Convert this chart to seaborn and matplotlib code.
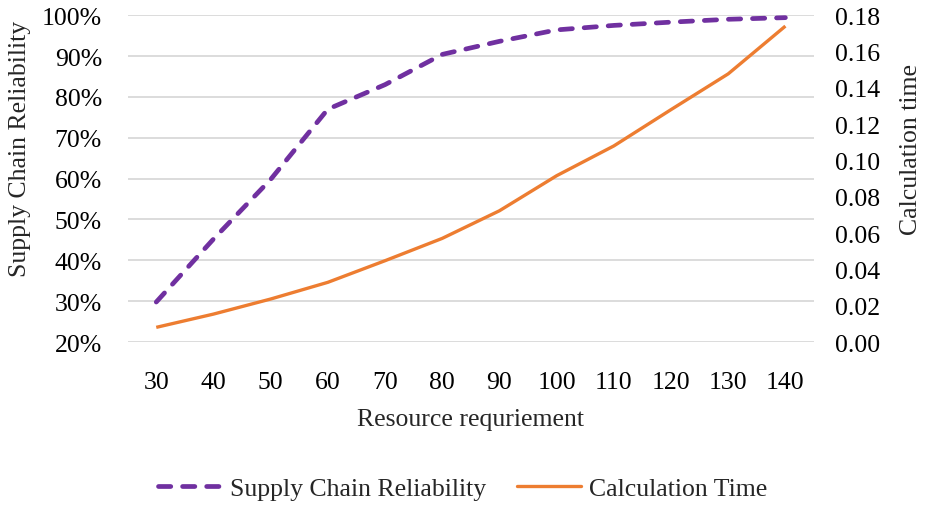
import matplotlib
matplotlib.use("Agg")
import matplotlib.pyplot as plt
import seaborn as sns
import pandas as pd
from matplotlib.ticker import FuncFormatter, MultipleLocator
from matplotlib.lines import Line2D

categories = [30, 40, 50, 60, 70, 80, 90, 100, 110, 120, 130, 140]
reliability = [0.298, 0.452, 0.598, 0.770, 0.830, 0.904, 0.936, 0.964, 0.975, 0.983, 0.990, 0.994]
calc_time = [0.0081, 0.0154, 0.0237, 0.0329, 0.0448, 0.0571, 0.0723, 0.0916, 0.108, 0.128, 0.1477, 0.174]

purple = "#7030A0"
orange = "#ED7D31"
FS = 18.5
DASH = (2.6, 2.5)

sns.set_theme(style="white")
plt.rcParams["font.family"] = ["Liberation Serif", "DejaVu Serif"]

df = pd.DataFrame({"pos": range(len(categories)), "cat": categories,
                   "rel": reliability, "time": calc_time})

fig = plt.figure(figsize=(9.25, 5.06), dpi=100)
ax = fig.add_axes([0.138, 0.322, 0.742, 0.646])
ax2 = ax.twinx()

sns.lineplot(data=df, x="pos", y="rel", ax=ax, color=purple, linewidth=3.4)
l1 = ax.lines[-1]
l1.set_dashes(DASH)
l1.set_dash_capstyle("round")

sns.lineplot(data=df, x="pos", y="time", ax=ax2, color=orange, linewidth=2.4)
l2 = ax2.lines[-1]
l2.set_solid_capstyle("butt")

ax.set_xlim(-0.5, len(categories) - 0.5)
ax.set_ylim(0.2, 1.0)
ax2.set_ylim(0, 0.18)
ax.yaxis.set_major_locator(MultipleLocator(0.1))
ax2.yaxis.set_major_locator(MultipleLocator(0.02))
ax.yaxis.set_major_formatter(FuncFormatter(lambda v, p: f"{v*100:.0f}%"))
ax2.yaxis.set_major_formatter(FuncFormatter(lambda v, p: f"{v:.2f}"))
ax.set_xticks(range(len(categories)))
ax.set_xticklabels([str(c) for c in categories])

ax.grid(axis="y", color="#D9D9D9", linewidth=1.3)
ax.set_axisbelow(True)
for a in (ax, ax2):
    for s in a.spines.values():
        s.set_visible(False)
    a.tick_params(length=0, labelsize=FS, colors="black")
ax.tick_params(axis="y", pad=18.5)
ax2.tick_params(axis="y", pad=15)
ax.tick_params(axis="x", pad=20.5)

ax.set_xlabel("Resource requriement", fontsize=FS, labelpad=11)
ax.set_ylabel("Supply Chain Reliability", fontsize=FS)
ax2.set_ylabel("Calculation time", fontsize=FS)
ax.yaxis.set_label_coords(-0.141, 0.593)
ax2.yaxis.set_label_coords(1.125, 0.593)

handles = [Line2D([], [], color=purple, linewidth=3.4, dashes=DASH, dash_capstyle="round"),
           Line2D([], [], color=orange, linewidth=2.4)]
fig.legend(handles, ["Supply Chain Reliability", "Calculation Time"], loc="center",
           bbox_to_anchor=(0.5, 0.032), ncol=2, frameon=False, fontsize=FS,
           handlelength=2.5, columnspacing=1.2, handletextpad=0.3)

fig.savefig("out.png", dpi=100)
